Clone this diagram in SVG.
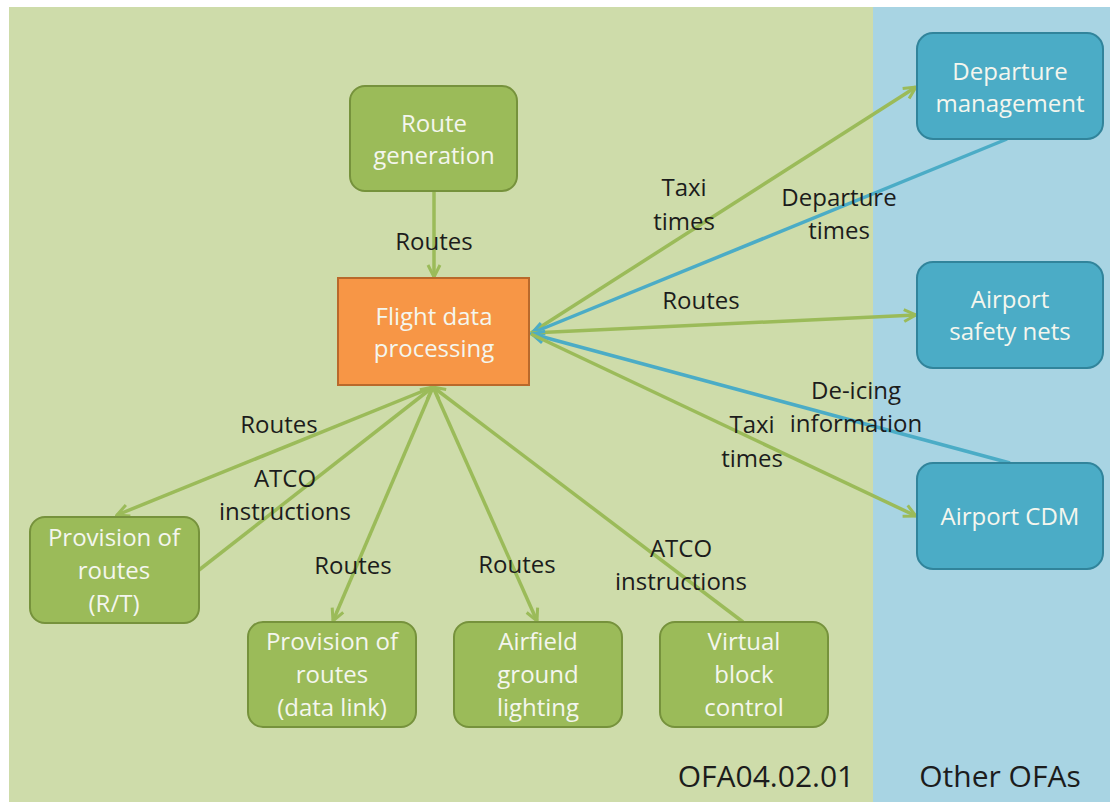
<svg xmlns="http://www.w3.org/2000/svg" width="1110" height="802" viewBox="0 0 1110 802">
<style>
.node text{font-family:"Open Sans","Liberation Sans",sans-serif;font-size:24px;fill:#F4F6EE;text-anchor:middle}
.g rect{fill:#9BBB59;stroke:#76923C;stroke-width:2}
.b rect{fill:#4BACC6;stroke:#31849B;stroke-width:2}
.o rect{fill:#F79646;stroke:#B9692B;stroke-width:2}
.lbl{font-family:"Open Sans","Liberation Sans",sans-serif;font-size:24px;fill:#1C1C1C;text-anchor:middle}
.big{font-family:"Open Sans","Liberation Sans",sans-serif;font-size:30px;fill:#1C1C1C;text-anchor:middle}
.cg{stroke:#9BBB59;stroke-width:3.5;fill:none}
.cb{stroke:#4BACC6;stroke-width:3.5;fill:none}
</style>
<defs>
<marker id="ag" viewBox="0 0 16 16" refX="14" refY="8" markerWidth="16" markerHeight="16" markerUnits="userSpaceOnUse" orient="auto">
<path d="M2,2 L14,8 L2,14" fill="none" stroke="#9BBB59" stroke-width="3"/>
</marker>
<marker id="ab" viewBox="0 0 16 16" refX="14" refY="8" markerWidth="16" markerHeight="16" markerUnits="userSpaceOnUse" orient="auto">
<path d="M2,2 L14,8 L2,14" fill="none" stroke="#4BACC6" stroke-width="3"/>
</marker>
</defs>
<rect x="0" y="0" width="1110" height="802" fill="#FFFFFF"/>
<rect id="area-ofa" x="9" y="7" width="864" height="795" fill="#CEDCAA"/>
<rect id="area-other" x="873" y="7" width="237" height="795" fill="#A8D4E3"/>
<g id="connectors">
<line class="cg" x1="434" y1="191" x2="434" y2="277" marker-end="url(#ag)"/>
<line class="cg" x1="531" y1="333" x2="916" y2="87" marker-end="url(#ag)"/>
<line class="cb" x1="1007" y1="139" x2="532" y2="333" marker-end="url(#ab)"/>
<line class="cg" x1="531" y1="333" x2="916" y2="315" marker-end="url(#ag)"/>
<line class="cb" x1="1010" y1="463" x2="532" y2="334" marker-end="url(#ab)"/>
<line class="cg" x1="531" y1="334" x2="916" y2="516" marker-end="url(#ag)"/>
<line class="cg" x1="433" y1="387" x2="117" y2="515" marker-end="url(#ag)"/>
<line class="cg" x1="199" y1="570" x2="433" y2="387" marker-end="url(#ag)"/>
<line class="cg" x1="433" y1="387" x2="333" y2="621" marker-end="url(#ag)"/>
<line class="cg" x1="433" y1="387" x2="537" y2="621" marker-end="url(#ag)"/>
<line class="cg" x1="743" y1="622" x2="433" y2="387" marker-end="url(#ag)"/>
</g>
<g id="labels">
<text class="lbl" x="434" y="250">Routes</text>
<text class="lbl" x="684" y="196">Taxi</text>
<text class="lbl" x="684" y="230">times</text>
<text class="lbl" x="839" y="206">Departure</text>
<text class="lbl" x="839" y="239">times</text>
<text class="lbl" x="701" y="309">Routes</text>
<text class="lbl" x="856" y="399">De-icing</text>
<text class="lbl" x="856" y="432">information</text>
<text class="lbl" x="752" y="433">Taxi</text>
<text class="lbl" x="752" y="467">times</text>
<text class="lbl" x="279" y="433">Routes</text>
<text class="lbl" x="285" y="487">ATCO</text>
<text class="lbl" x="285" y="520">instructions</text>
<text class="lbl" x="353" y="574">Routes</text>
<text class="lbl" x="517" y="573">Routes</text>
<text class="lbl" x="681" y="557">ATCO</text>
<text class="lbl" x="681" y="590">instructions</text>
<text class="big" x="766" y="787">OFA04.02.01</text>
<text class="big" x="1000" y="787">Other OFAs</text>
</g>
<g id="route-generation" class="node g">
<rect x="350" y="86" width="167" height="105" rx="15"/>
<text x="434" y="132">Route</text>
<text x="434" y="164">generation</text>
</g>
<g id="flight-data-processing" class="node o">
<rect x="338" y="278" width="191" height="107"/>
<text x="434" y="325">Flight data</text>
<text x="434" y="357">processing</text>
</g>
<g id="departure-management" class="node b">
<rect x="917" y="33" width="186" height="106" rx="16"/>
<text x="1010" y="80">Departure</text>
<text x="1010" y="112">management</text>
</g>
<g id="airport-safety-nets" class="node b">
<rect x="917" y="262" width="186" height="106" rx="16"/>
<text x="1010" y="308">Airport</text>
<text x="1010" y="340">safety nets</text>
</g>
<g id="airport-cdm" class="node b">
<rect x="917" y="463" width="186" height="106" rx="16"/>
<text x="1010" y="525">Airport CDM</text>
</g>
<g id="provision-rt" class="node g">
<rect x="30" y="517" width="169" height="106" rx="15"/>
<text x="114" y="546">Provision of</text>
<text x="114" y="579">routes</text>
<text x="114" y="612">(R/T)</text>
</g>
<g id="provision-datalink" class="node g">
<rect x="248" y="622" width="168" height="105" rx="15"/>
<text x="332" y="650">Provision of</text>
<text x="332" y="683">routes</text>
<text x="332" y="716">(data link)</text>
</g>
<g id="airfield-ground-lighting" class="node g">
<rect x="454" y="622" width="168" height="105" rx="15"/>
<text x="538" y="650">Airfield</text>
<text x="538" y="683">ground</text>
<text x="538" y="716">lighting</text>
</g>
<g id="virtual-block-control" class="node g">
<rect x="660" y="622" width="168" height="105" rx="15"/>
<text x="744" y="650">Virtual</text>
<text x="744" y="683">block</text>
<text x="744" y="716">control</text>
</g>
</svg>
